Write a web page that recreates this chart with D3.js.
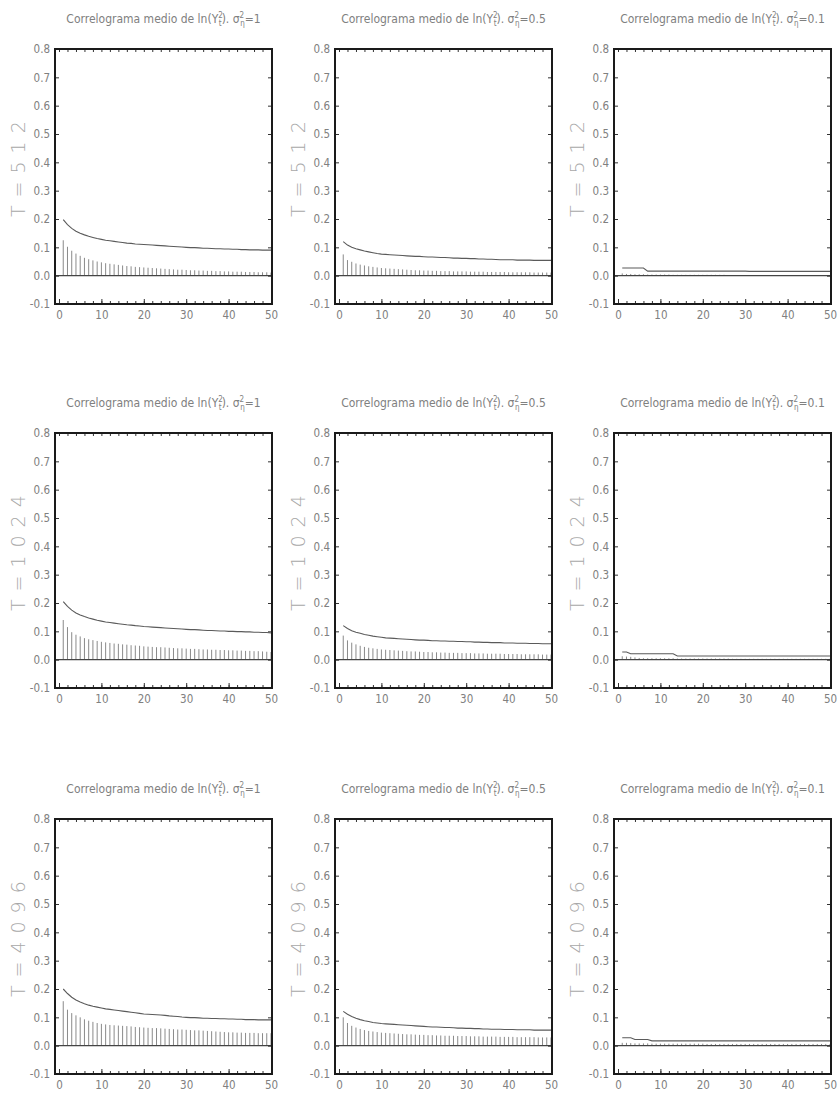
<!DOCTYPE html>
<html>
<head>
<meta charset="utf-8">
<script src="https://cdn.jsdelivr.net/npm/d3@7"></script>
<style>
  body { margin: 0; background: #fff; }
  svg { display: block; }
  .lbl { font-family: "Liberation Sans Narrow", "DejaVu Sans Condensed", "Liberation Sans", sans-serif; fill: #808080; }
</style>
</head>
<body>
<svg id="chart" width="838" height="1100"></svg>
<script>
// Lags of the averaged correlogram
const lags = d3.range(1, 51);
const xTicks = [0, 10, 20, 30, 40, 50];
const xMinorTicks = d3.range(0, 51, 2);
const yTicks = [-0.1, 0.0, 0.1, 0.2, 0.3, 0.4, 0.5, 0.6, 0.7, 0.8];
const sampleSizes = ["512", "1024", "4096"];
const sigmaLabels = ["1", "0.5", "0.1"];

// T = 512
const curveT512s1 = [0.198,0.180,0.167,0.157,0.150,0.144,0.139,0.135,0.131,0.128,
  0.125,0.123,0.121,0.119,0.117,0.115,0.114,0.112,0.111,0.110,
  0.109,0.108,0.107,0.106,0.105,0.104,0.103,0.102,0.101,0.100,
  0.099,0.099,0.098,0.097,0.097,0.096,0.095,0.095,0.094,0.094,
  0.093,0.093,0.092,0.092,0.091,0.091,0.091,0.090,0.090,0.090];
const acfT512s1 = [0.125,0.102,0.088,0.078,0.070,0.063,0.058,0.054,0.050,0.047,
  0.044,0.042,0.040,0.038,0.036,0.034,0.033,0.031,0.030,0.029,
  0.028,0.027,0.026,0.025,0.024,0.023,0.022,0.021,0.021,0.020,
  0.019,0.019,0.018,0.018,0.017,0.017,0.016,0.016,0.015,0.015,
  0.014,0.014,0.014,0.013,0.013,0.013,0.012,0.012,0.012,0.011];
const curveT512s05 = [0.120,0.108,0.100,0.095,0.091,0.087,0.084,0.081,0.078,0.076,
  0.075,0.074,0.073,0.072,0.071,0.070,0.069,0.068,0.068,0.067,
  0.066,0.066,0.065,0.064,0.064,0.063,0.062,0.062,0.061,0.061,
  0.060,0.060,0.059,0.059,0.058,0.058,0.057,0.056,0.056,0.056,
  0.056,0.055,0.055,0.055,0.055,0.054,0.054,0.054,0.054,0.054];
const acfT512s05 = [0.075,0.055,0.049,0.043,0.039,0.036,0.033,0.031,0.029,0.027,
  0.026,0.025,0.024,0.023,0.022,0.021,0.020,0.019,0.019,0.018,
  0.018,0.017,0.017,0.016,0.016,0.016,0.015,0.015,0.015,0.015,
  0.014,0.014,0.014,0.014,0.013,0.013,0.013,0.013,0.013,0.012,
  0.012,0.012,0.012,0.012,0.012,0.011,0.011,0.011,0.011,0.011];
const curveT512s01 = [0.027,0.027,0.027,0.027,0.027,0.027,0.016,0.016,0.016,0.016,
  0.016,0.016,0.016,0.016,0.016,0.016,0.016,0.016,0.016,0.016,
  0.016,0.016,0.016,0.016,0.016,0.016,0.016,0.016,0.016,0.016,
  0.015,0.015,0.015,0.015,0.015,0.015,0.015,0.015,0.015,0.015,
  0.015,0.015,0.015,0.015,0.015,0.015,0.015,0.015,0.015,0.015];
const acfT512s01 = [0.008,0.006,0.006,0.005,0.005,0.005,0.004,0.004,0.004,0.004,
  0.004,0.004,0.003,0.003,0.003,0.003,0.003,0.003,0.003,0.003,
  0.003,0.003,0.003,0.003,0.003,0.002,0.002,0.002,0.002,0.002,
  0.002,0.002,0.002,0.002,0.002,0.002,0.002,0.002,0.002,0.002,
  0.002,0.002,0.002,0.002,0.002,0.002,0.002,0.002,0.002,0.002];

// T = 1024
const curveT1024s1 = [0.205,0.188,0.175,0.165,0.158,0.152,0.147,0.143,0.139,0.136,
  0.133,0.131,0.129,0.127,0.125,0.123,0.122,0.120,0.119,0.117,
  0.116,0.115,0.114,0.113,0.112,0.111,0.110,0.109,0.108,0.107,
  0.106,0.106,0.105,0.104,0.103,0.103,0.102,0.101,0.101,0.100,
  0.100,0.099,0.099,0.098,0.098,0.097,0.097,0.096,0.096,0.094];
const acfT1024s1 = [0.140,0.115,0.097,0.088,0.082,0.076,0.072,0.069,0.066,0.063,
  0.061,0.059,0.057,0.056,0.054,0.053,0.051,0.050,0.049,0.047,
  0.046,0.045,0.044,0.044,0.043,0.042,0.041,0.040,0.040,0.039,
  0.038,0.038,0.037,0.036,0.036,0.035,0.035,0.034,0.034,0.033,
  0.033,0.032,0.032,0.031,0.031,0.030,0.030,0.029,0.028,0.027];
const curveT1024s05 = [0.120,0.110,0.102,0.097,0.093,0.089,0.086,0.083,0.081,0.079,
  0.077,0.076,0.075,0.074,0.073,0.072,0.071,0.070,0.069,0.069,
  0.068,0.067,0.067,0.066,0.066,0.065,0.065,0.064,0.064,0.063,
  0.063,0.062,0.062,0.061,0.061,0.060,0.060,0.060,0.059,0.059,
  0.059,0.058,0.058,0.058,0.057,0.057,0.057,0.056,0.056,0.056];
const acfT1024s05 = [0.085,0.068,0.060,0.054,0.049,0.045,0.042,0.040,0.038,0.036,
  0.035,0.034,0.033,0.032,0.031,0.030,0.029,0.029,0.028,0.027,
  0.027,0.026,0.026,0.025,0.025,0.024,0.024,0.024,0.023,0.023,
  0.023,0.022,0.022,0.022,0.021,0.021,0.021,0.021,0.020,0.020,
  0.020,0.020,0.019,0.019,0.019,0.019,0.019,0.018,0.018,0.018];
const curveT1024s01 = [0.027,0.027,0.021,0.021,0.021,0.021,0.021,0.021,0.021,0.021,
  0.021,0.021,0.021,0.013,0.013,0.013,0.013,0.013,0.013,0.013,
  0.013,0.013,0.013,0.013,0.013,0.013,0.013,0.013,0.013,0.013,
  0.013,0.013,0.013,0.013,0.013,0.013,0.013,0.013,0.013,0.013,
  0.013,0.013,0.013,0.013,0.013,0.013,0.013,0.013,0.013,0.013];
const acfT1024s01 = [0.012,0.011,0.010,0.008,0.006,0.005,0.005,0.005,0.005,0.005,
  0.005,0.005,0.005,0.004,0.004,0.004,0.004,0.004,0.004,0.004,
  0.004,0.004,0.004,0.004,0.004,0.004,0.003,0.003,0.003,0.003,
  0.003,0.003,0.003,0.003,0.003,0.003,0.003,0.003,0.003,0.003,
  0.003,0.003,0.003,0.003,0.003,0.003,0.003,0.003,0.003,0.003];

// T = 4096
const curveT4096s1 = [0.200,0.184,0.171,0.161,0.154,0.148,0.143,0.139,0.136,0.133,
  0.130,0.128,0.126,0.124,0.122,0.120,0.118,0.116,0.114,0.112,
  0.111,0.110,0.109,0.108,0.107,0.105,0.104,0.103,0.101,0.100,
  0.099,0.099,0.098,0.097,0.097,0.096,0.096,0.095,0.095,0.094,
  0.094,0.093,0.093,0.092,0.092,0.092,0.091,0.091,0.091,0.091];
const acfT4096s1 = [0.157,0.127,0.115,0.107,0.100,0.093,0.088,0.084,0.080,0.077,
  0.075,0.073,0.072,0.071,0.070,0.069,0.068,0.066,0.065,0.064,
  0.063,0.062,0.062,0.061,0.060,0.059,0.058,0.057,0.057,0.056,
  0.055,0.054,0.054,0.053,0.052,0.051,0.050,0.049,0.048,0.047,
  0.047,0.046,0.046,0.045,0.045,0.045,0.044,0.044,0.044,0.044];
const curveT4096s05 = [0.121,0.111,0.103,0.097,0.092,0.088,0.085,0.082,0.080,0.078,
  0.077,0.076,0.075,0.074,0.073,0.072,0.071,0.070,0.069,0.068,
  0.067,0.066,0.066,0.065,0.064,0.064,0.063,0.062,0.062,0.061,
  0.061,0.060,0.060,0.059,0.059,0.058,0.058,0.058,0.057,0.057,
  0.057,0.056,0.056,0.056,0.056,0.055,0.055,0.055,0.055,0.055];
const acfT4096s05 = [0.100,0.080,0.070,0.064,0.059,0.055,0.052,0.050,0.048,0.046,
  0.045,0.044,0.043,0.042,0.041,0.040,0.040,0.039,0.038,0.038,
  0.037,0.037,0.036,0.036,0.035,0.035,0.035,0.034,0.034,0.034,
  0.033,0.033,0.033,0.032,0.032,0.032,0.032,0.031,0.031,0.031,
  0.031,0.030,0.030,0.030,0.030,0.030,0.029,0.029,0.029,0.029];
const curveT4096s01 = [0.028,0.028,0.028,0.022,0.022,0.022,0.022,0.017,0.017,0.017,
  0.017,0.017,0.017,0.017,0.017,0.017,0.017,0.017,0.017,0.017,
  0.017,0.017,0.017,0.017,0.017,0.017,0.017,0.017,0.017,0.017,
  0.017,0.017,0.017,0.017,0.017,0.017,0.017,0.017,0.017,0.017,
  0.017,0.017,0.017,0.017,0.017,0.017,0.017,0.017,0.017,0.017];
const acfT4096s01 = [0.010,0.010,0.009,0.008,0.008,0.008,0.008,0.007,0.007,0.007,
  0.007,0.007,0.007,0.007,0.007,0.007,0.007,0.007,0.007,0.007,
  0.006,0.006,0.006,0.006,0.006,0.006,0.006,0.006,0.006,0.006,
  0.006,0.006,0.006,0.006,0.006,0.006,0.006,0.006,0.006,0.006,
  0.006,0.006,0.006,0.006,0.006,0.006,0.006,0.006,0.006,0.006];

// panel grid: rows = sample size, columns = sigma_eta^2
const panelData = [
  [{ acf: acfT512s1,  curve: curveT512s1  }, { acf: acfT512s05,  curve: curveT512s05  }, { acf: acfT512s01,  curve: curveT512s01  }],
  [{ acf: acfT1024s1, curve: curveT1024s1 }, { acf: acfT1024s05, curve: curveT1024s05 }, { acf: acfT1024s01, curve: curveT1024s01 }],
  [{ acf: acfT4096s1, curve: curveT4096s1 }, { acf: acfT4096s05, curve: curveT4096s05 }, { acf: acfT4096s01, curve: curveT4096s01 }]
];

const svg = d3.select("#chart");
const W = 217, H = 255;
const colLeft = [55, 335, 614];
const rowTop = [49, 433, 819];
const fmt = d => d3.format(".1f")(d).replace("\u2212", "-");

sampleSizes.forEach((T, r) => {
  sigmaLabels.forEach((s, c) => {
    const { acf, curve } = panelData[r][c];
    const g = svg.append("g").attr("transform", `translate(${colLeft[c]},${rowTop[r]})`);
    const x = d3.scaleLinear().domain([0, 50]).range([4, W - 1]);
    const y = d3.scaleLinear().domain([-0.1, 0.8]).range([H, 0]);

    // autocorrelation spikes
    g.append("g").selectAll("line").data(lags).join("line")
      .attr("x1", d => x(d)).attr("x2", d => x(d))
      .attr("y1", y(0)).attr("y2", (d, i) => y(acf[i]))
      .attr("stroke", "#8a8a8a").attr("stroke-width", 1);

    // zero line
    g.append("line").attr("x1", 0).attr("x2", W).attr("y1", y(0)).attr("y2", y(0))
      .attr("stroke", "#444").attr("stroke-width", 1.2);

    // upper curve
    g.append("path").datum(lags)
      .attr("d", d3.line().x(d => x(d)).y((d, i) => y(curve[i])))
      .attr("fill", "none").attr("stroke", "#5a5a5a").attr("stroke-width", 1.1);

    // axes with inward ticks
    const yl = g.append("g").call(d3.axisLeft(y).tickValues(yTicks).tickFormat(fmt)
      .tickSizeInner(-4).tickSizeOuter(0).tickPadding(5));
    const yr = g.append("g").attr("transform", `translate(${W},0)`)
      .call(d3.axisRight(y).tickValues(yTicks).tickFormat("").tickSizeInner(-4).tickSizeOuter(0));
    const xb = g.append("g").attr("transform", `translate(0,${H})`)
      .call(d3.axisBottom(x).tickValues(xTicks).tickFormat(d3.format("d"))
        .tickSizeInner(-5).tickSizeOuter(0).tickPadding(7));
    const xbm = g.append("g").attr("transform", `translate(0,${H})`)
      .call(d3.axisBottom(x).tickValues(xMinorTicks).tickFormat("").tickSizeInner(-3).tickSizeOuter(0));
    const xt = g.append("g")
      .call(d3.axisTop(x).tickValues(xMinorTicks).tickFormat("").tickSizeInner(-3).tickSizeOuter(0));
    [yl, yr, xb, xbm, xt].forEach(a => {
      a.select(".domain").remove();
      a.selectAll(".tick line").attr("stroke", "#333");
      a.selectAll("text").attr("class", "lbl").attr("font-size", 11.5).attr("fill", "#808080");
    });

    // frame
    g.append("rect").attr("x", 0).attr("y", 0).attr("width", W).attr("height", H)
      .attr("fill", "none").attr("stroke", "#1a1a1a").attr("stroke-width", 2);

    // panel title
    const t = g.append("text").attr("class", "lbl").attr("x", W / 2).attr("y", -26)
      .attr("text-anchor", "middle").attr("font-size", 12).attr("fill", "#707070");
    t.append("tspan").text("Correlograma medio de ln(Y");
    t.append("tspan").attr("font-size", 8).attr("dy", -5).text("2");
    t.append("tspan").attr("font-size", 8).attr("dx", -4).attr("dy", 8).text("t");
    t.append("tspan").attr("dy", -3).text("). \u03c3");
    t.append("tspan").attr("font-size", 8).attr("dy", -5).text("2");
    t.append("tspan").attr("font-size", 8).attr("dx", -4).attr("dy", 8).text("\u03b7");
    t.append("tspan").attr("dy", -3).text("=" + s);

    // sample size label
    g.append("text")
      .attr("transform", `translate(-30,${y(0.39)}) rotate(-90)`)
      .attr("text-anchor", "middle")
      .attr("font-family", "'DejaVu Sans', sans-serif").attr("font-weight", 200)
      .attr("font-size", 19).attr("letter-spacing", 8).attr("fill", "#a8a8a8")
      .text("T=" + T);
  });
});
</script>
</body>
</html>
